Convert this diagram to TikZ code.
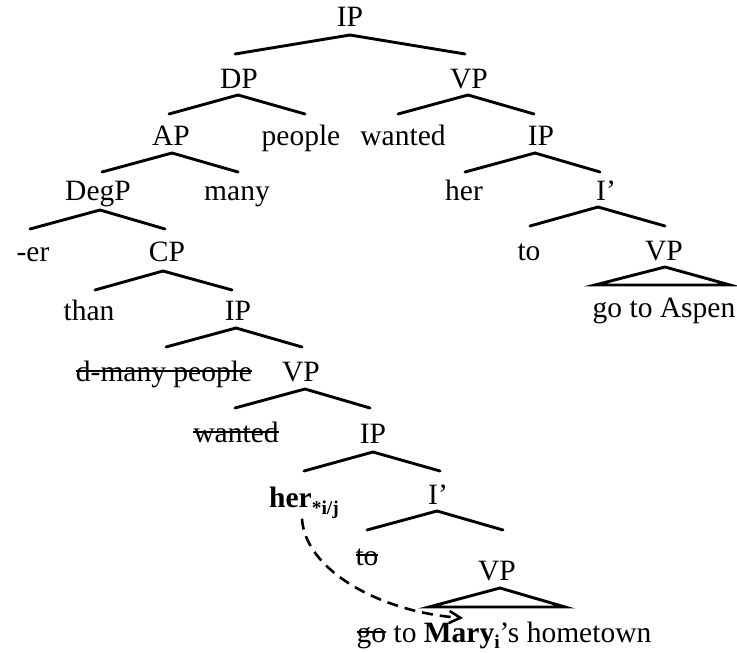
\documentclass[tikz,border=0pt]{standalone}
\usepackage{fontspec}
\setmainfont{Liberation Serif}
\usetikzlibrary{arrows.meta}
\newsavebox\stkbox
\newcommand\stk[1]{\sbox\stkbox{#1}\rlap{\rule[0.32em]{\wd\stkbox}{1.9pt}}\usebox\stkbox}
\newcommand\subx[2][-7.5pt]{\raisebox{#1}{\fontsize{19.5}{20}\selectfont\bfseries #2}}
\tikzset{
  lbl/.style={anchor=base, inner sep=0pt, outer sep=0pt, font=\fontsize{29.5}{32}\selectfont},
  br/.style={line width=2.9pt, line cap=round},
  tri/.style={line width=2.9pt, line join=miter},
  movearrow/.style={line width=2.6pt, dash pattern=on 11pt off 7pt, -{Straight Barb[length=11pt,width=12pt]}}
}
\newcommand\branch[4]{\draw[br] ([shift={(#2)}]#1.base) -- ([shift={(#4)}]#3.base);}
\begin{document}
\begin{tikzpicture}[x=1pt,y=1pt]
\useasboundingbox (0,0) rectangle (737,-653);
% nodes
\node[lbl] (ip1) at (350,-27) {IP};
\node[lbl] (dp) at (239,-88) {DP};
\node[lbl] (vp1) at (469,-88) {VP};
\node[lbl] (ap) at (171,-145) {AP};
\node[lbl] (people) at (301,-145) {people};
\node[lbl] (wanted1) at (403,-145) {wanted};
\node[lbl] (ip2) at (541,-145) {IP};
\node[lbl] (degp) at (98,-200) {DegP};
\node[lbl] (many) at (237,-200) {many};
\node[lbl] (her1) at (464,-200) {her};
\node[lbl] (ibar1) at (606,-200) {I’};
\node[lbl] (er) at (33,-261) {-er};
\node[lbl] (cp) at (167,-261) {CP};
\node[lbl] (to1) at (529,-260) {to};
\node[lbl] (vp2) at (664,-260) {VP};
\node[lbl] (than) at (89,-320) {than};
\node[lbl] (ip3) at (238,-320) {IP};
\node[lbl] (aspen) at (664,-317) {go to Aspen};
\node[lbl] (dmany) at (164,-381) {\stk{d-many people}};
\node[lbl] (vp3) at (301,-381) {VP};
\node[lbl] (wanted2) at (236,-442) {\stk{wanted}};
\node[lbl] (ip4) at (373,-443) {IP};
\node[lbl] (her2) at (304,-507) {\textbf{her}\subx{*i/j}};
\node[lbl] (ibar2) at (438,-504) {I’};
\node[lbl] (to2) at (367,-565) {\stk{to}};
\node[lbl] (vp4) at (497,-580) {VP};
\node[lbl] (bottom) at (504,-642) {\stk{go} to \textbf{Mary}\subx[-6.5pt]{i}’s hometown};
\coordinate (tip) at (463,-618);
% branches
\branch{ip1}{0,-8}{dp}{-4,34}
\branch{ip1}{0,-8}{vp1}{-4,34}
\branch{dp}{-1,-7}{ap}{-2,31}
\branch{dp}{-1,-7}{people}{4,31}
\branch{vp1}{-1,-7}{wanted1}{-5,31}
\branch{vp1}{-1,-7}{ip2}{-7,31}
\branch{ap}{1,-8}{degp}{4,28}
\branch{ap}{1,-8}{many}{1,28}
\branch{ip2}{-6,-8}{her1}{1,28}
\branch{ip2}{-6,-8}{ibar1}{-6,28}
\branch{degp}{2,-10}{er}{-3,32}
\branch{degp}{2,-10}{cp}{-2,32}
\branch{ibar1}{-8,-7}{to1}{1,34}
\branch{ibar1}{-8,-7}{vp2}{1,34}
\branch{cp}{-4,-10}{than}{6,30}
\branch{cp}{-4,-10}{ip3}{-6,30}
\branch{ip3}{-2,-8}{dmany}{2,34}
\branch{ip3}{-2,-8}{vp3}{1,34}
\branch{vp3}{4,-8}{wanted2}{-1,34}
\branch{vp3}{4,-8}{ip4}{-3,35}
\branch{ip4}{0,-9}{her2}{0,36}
\branch{ip4}{0,-9}{ibar2}{2,33}
\branch{ibar2}{-1,-7}{to2}{0,35}
\branch{ibar2}{-1,-7}{vp4}{6,50}
% triangles
\draw[tri] ([shift={(1,-7)}]vp2.base) -- ([shift={(-69,32)}]aspen.base) -- ([shift={(66,32)}]aspen.base) -- cycle;
\draw[tri] ([shift={(3,-8)}]vp4.base) -- ([shift={(-75,35)}]bottom.base) -- ([shift={(61,35)}]bottom.base) -- cycle;
% movement arrow
\draw[movearrow] ([xshift=-2pt]her2.south) .. controls (305,-570) and (380,-612) .. (tip);
\end{tikzpicture}
\end{document}
